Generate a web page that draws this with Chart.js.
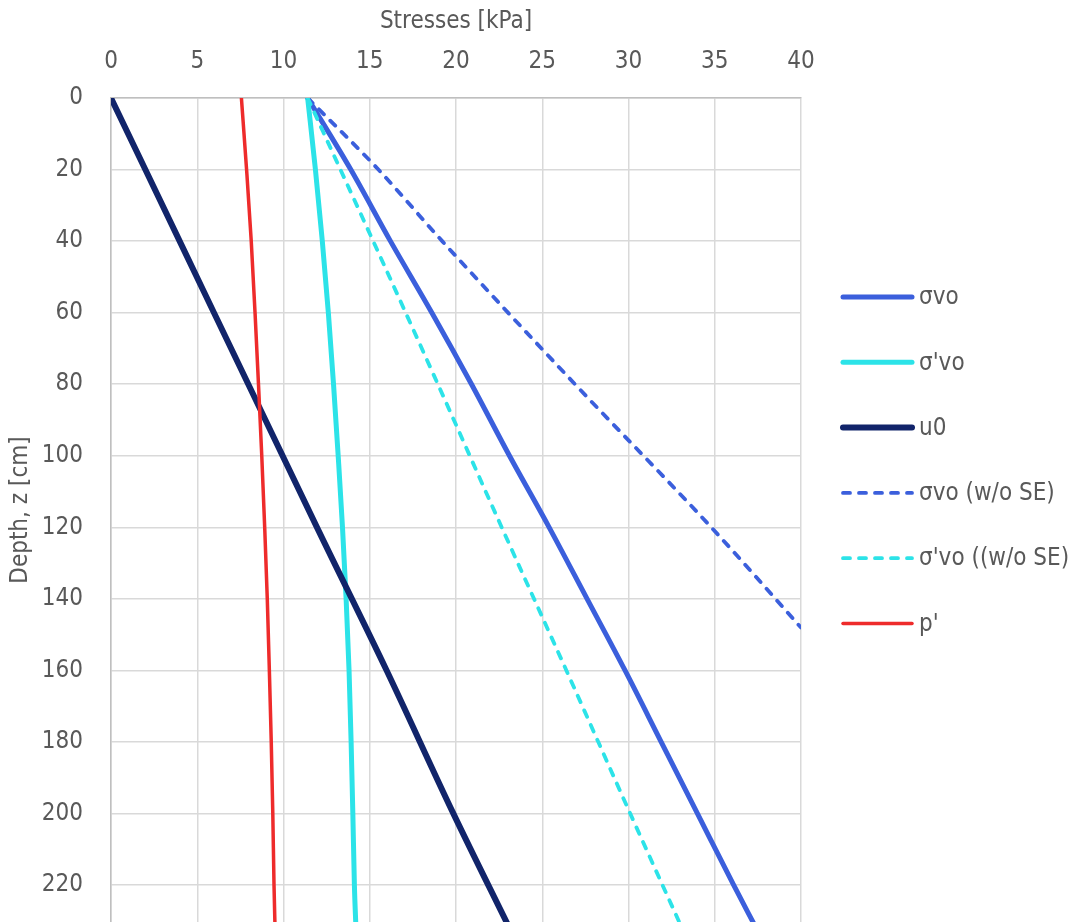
<!DOCTYPE html>
<html>
<head>
<meta charset="utf-8">
<script src="https://cdn.jsdelivr.net/npm/chart.js@4"></script>
<style>
  html, body { margin: 0; padding: 0; background: #fff; overflow: hidden; }
  canvas { display: block; }
</style>
</head>
<body>
<canvas id="stressChart" width="1079" height="922"></canvas>
<script>
// ===== Data =====
const depthTicks = [0, 20, 40, 60, 80, 100, 120, 140, 160, 180, 200, 220];
const stressTicks = [0, 5, 10, 15, 20, 25, 30, 35, 40];

// depth z [cm]
const zFull = [0, 20, 40, 60, 80, 100, 120, 140, 160, 180, 200, 220, 232];
const zU0 = [0, 40, 80, 120, 160, 200, 232];
const zSvoNoSE = [0, 20, 40, 80, 120, 148];
const zSvEffNoSE = [0, 20, 40, 80, 120, 160, 200, 232];

// stresses [kPa]
const svo = [11.4, 13.9, 16.2, 18.6, 20.9, 23.1, 25.4, 27.6, 29.8, 31.9, 34.0, 36.1, 37.4];
const svEff = [11.4, 11.85, 12.25, 12.6, 12.9, 13.17, 13.42, 13.63, 13.8, 13.92, 14.02, 14.11, 14.2];
const u0 = [0, 3.98, 7.96, 11.94, 15.98, 19.85, 23.1];
const svoNoSE = [11.4, 15.5, 19.2, 26.9, 34.8, 40.0];
const svEffNoSE = [11.4, 13.3, 15.2, 18.95, 22.65, 26.4, 30.1, 33.1];
const pEff = [7.56, 7.86, 8.13, 8.35, 8.55, 8.74, 8.91, 9.06, 9.18, 9.29, 9.38, 9.45, 9.51];

// ===== Helpers =====
const FONT = '"Liberation Sans Narrow", "DejaVu Sans Condensed", "Roboto", sans-serif';
const TEXT = "#595959";
const pts = (xs, zs) => xs.map((x, i) => ({ x, y: zs[i] }));

function series(label, xs, zs, color, width, dash, order) {
  return {
    label,
    data: pts(xs, zs),
    borderColor: color,
    backgroundColor: color,
    borderWidth: width,
    borderDash: dash || [],
    borderCapStyle: "round",
    borderJoinStyle: "round",
    cubicInterpolationMode: "monotone",
    showLine: true,
    pointRadius: 0,
    pointHoverRadius: 0,
    order,
  };
}

// custom legend: stacked on the right, line sample + label
const sideLegend = {
  id: "sideLegend",
  afterDraw(chart) {
    const { ctx } = chart;
    ctx.save();
    chart.data.datasets.forEach((ds, i) => {
      const y = 297 + 65.3 * i;
      ctx.beginPath();
      ctx.lineWidth = ds.borderWidth;
      ctx.strokeStyle = ds.borderColor;
      ctx.lineCap = "round";
      ctx.setLineDash(ds.borderDash);
      ctx.moveTo(843, y);
      ctx.lineTo(912, y);
      ctx.stroke();
      ctx.setLineDash([]);
      ctx.fillStyle = TEXT;
      ctx.font = `24px ${FONT}`;
      ctx.textBaseline = "middle";
      ctx.fillText(ds.label, 919, y + 1);
    });
    ctx.restore();
  },
};

// ===== Chart =====
const ctx = document.getElementById("stressChart");
new Chart(ctx, {
  type: "scatter",
  data: {
    datasets: [
      series("\u03C3vo", svo, zFull, "#3B5FDC", 5, null, 6),
      series("\u03C3'vo", svEff, zFull, "#2CE3E8", 5, null, 5),
      series("u0", u0, zU0, "#11246A", 6, null, 4),
      series("\u03C3vo (w/o SE)", svoNoSE, zSvoNoSE, "#3B5FDC", 3.8, [7, 9], 3),
      series("\u03C3'vo ((w/o SE)", svEffNoSE, zSvEffNoSE, "#2CE3E8", 3.8, [7, 9], 2),
      series("p'", pEff, zFull, "#EE2B2B", 3.5, null, 1),
    ],
  },
  options: {
    responsive: false,
    devicePixelRatio: 1,
    animation: false,
    layout: { padding: { left: 0, top: 0, right: 278, bottom: 0 } },
    plugins: { legend: { display: false }, tooltip: { enabled: false } },
    scales: {
      x: {
        type: "linear",
        position: "top",
        min: stressTicks[0],
        max: stressTicks[stressTicks.length - 1],
        afterBuildTicks(scale) {
          scale.ticks = stressTicks.map((v) => ({ value: v }));
        },
        afterFit(scale) {
          scale.height = 98;
        },
        ticks: {
          color: TEXT,
          font: { family: FONT, size: 24 },
          padding: 22,
        },
        grid: { color: "#D9D9D9", lineWidth: 1.5, drawTicks: false },
        border: { color: "#BFBFBF", width: 1.5 },
        title: {
          display: true,
          text: "Stresses [kPa]",
          color: TEXT,
          font: { family: FONT, size: 24 },
          padding: { top: 7, bottom: 0 },
        },
      },
      y: {
        type: "linear",
        reverse: true,
        min: 0,
        max: 230.3,
        afterBuildTicks(scale) {
          scale.ticks = depthTicks.map((v) => ({ value: v }));
        },
        afterFit(scale) {
          // plot runs to the bottom edge, so no room kept for edge labels
          scale.width = 111;
          scale.paddingTop = 0;
          scale.paddingBottom = 0;
        },
        ticks: {
          color: TEXT,
          font: { family: FONT, size: 24 },
          padding: 28,
        },
        grid: { color: "#D9D9D9", lineWidth: 1.5, drawTicks: false },
        border: { color: "#BFBFBF", width: 1.5 },
        title: {
          display: true,
          text: "Depth, z [cm]",
          color: TEXT,
          font: { family: FONT, size: 24 },
          padding: { top: 6, bottom: 0 },
        },
      },
    },
  },
  plugins: [sideLegend],
});
</script>
</body>
</html>
